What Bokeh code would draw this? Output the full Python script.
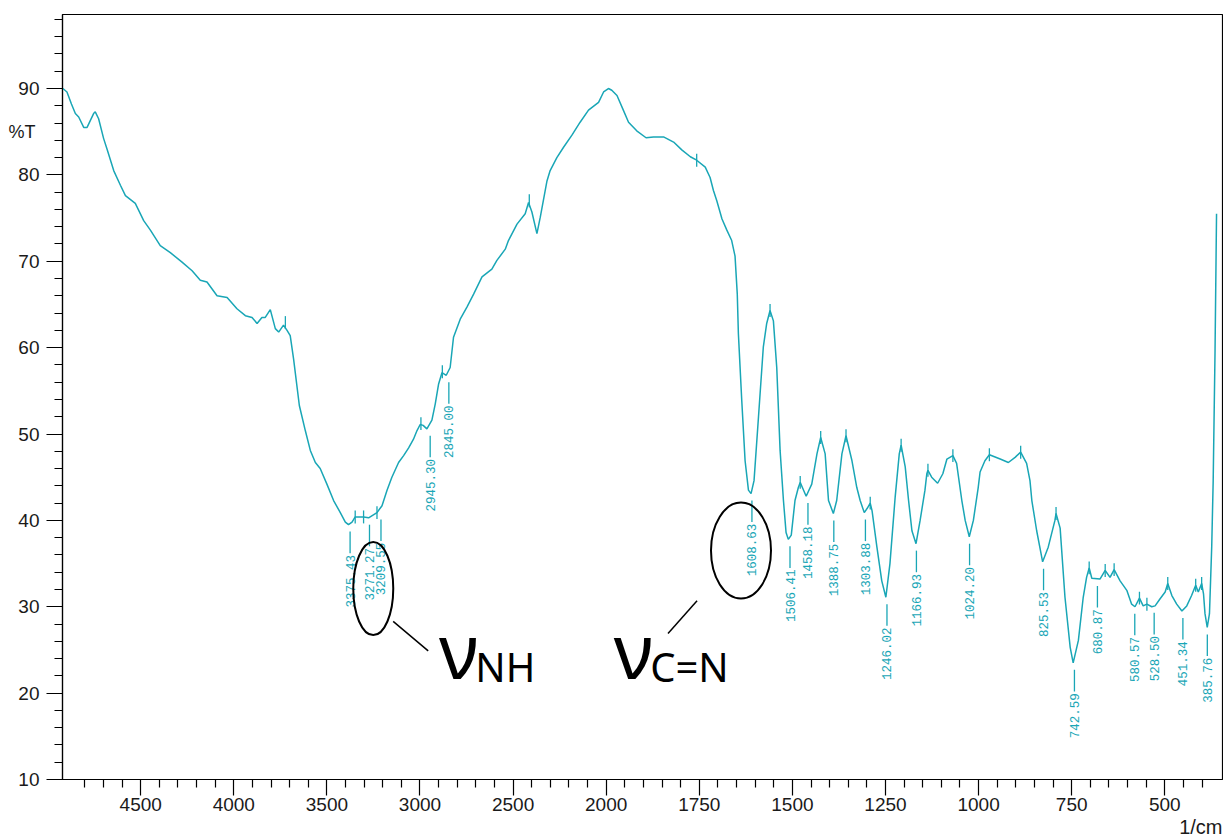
import numpy as np
from bokeh.plotting import figure
from bokeh.models import (Range1d, FixedTicker, CustomJSTickFormatter, Title, LinearAxis)
from bokeh.embed import file_html
from bokeh.resources import INLINE
from bokeh.core.properties import value

# ---------------- data ----------------
wavenumber = [4918, 4896, 4872, 4851, 4833, 4806, 4788, 4753, 4744, 4726, 4699, 4681, 4645, 4609,
              4582, 4529, 4484, 4448, 4395, 4341, 4278, 4224, 4180, 4144, 4090, 4036, 3983, 3938,
              3902, 3875, 3849, 3831, 3804, 3777, 3759, 3733, 3714, 3697, 3679, 3648, 3616, 3589,
              3562, 3536, 3500, 3464, 3428, 3401, 3384, 3365, 3348, 3303, 3276, 3231, 3204, 3177,
              3151, 3115, 3088, 3061, 3035, 3016, 2999, 2983, 2963, 2936, 2918, 2900, 2882, 2859,
              2838, 2820, 2784, 2748, 2712, 2667, 2614, 2587, 2542, 2525, 2479, 2435, 2417, 2399,
              2372, 2354, 2318, 2301, 2265, 2229, 2184, 2140, 2095, 2041, 2014, 1994, 1985, 1971,
              1954, 1940, 1918, 1893, 1873, 1846, 1819, 1797, 1774, 1757, 1734, 1721, 1712, 1703,
              1689, 1676, 1663, 1654, 1648, 1645, 1636, 1627, 1618, 1611, 1603, 1591, 1578, 1569,
              1560, 1551, 1542, 1533, 1524, 1517, 1511, 1503, 1493, 1484, 1479, 1474, 1463, 1448,
              1434, 1424, 1412, 1403, 1390, 1381, 1367, 1356, 1340, 1327, 1318, 1307, 1299, 1291,
              1286, 1273, 1260, 1249, 1238, 1224, 1213, 1208, 1197, 1188, 1179, 1168, 1157, 1144,
              1139, 1136, 1126, 1110, 1096, 1085, 1069, 1059, 1045, 1036, 1025, 1014, 1001, 996,
              983, 971, 942, 920, 902, 887, 871, 862, 857, 844, 828, 813, 795, 792, 781, 768, 754,
              746, 732, 719, 710, 703, 696, 674, 660, 647, 636, 620, 602, 589, 580, 568, 558, 548,
              535, 526, 513, 499, 492, 481, 468, 454, 441, 428, 417, 410, 401, 396, 392, 386, 380,
              374, 370, 365, 361]
transmittance = [90.0, 89.6, 88.2, 87.1, 86.7, 85.5, 85.5, 87.1, 87.3, 86.5, 84.2, 83.0, 80.5, 78.8,
                 77.6, 76.7, 74.7, 73.6, 71.8, 71.0, 69.9, 68.9, 67.8, 67.6, 66.0, 65.8, 64.5, 63.7,
                 63.5, 62.8, 63.5, 63.5, 64.4, 62.2, 61.8, 62.6, 62.0, 61.4, 58.7, 53.3, 50.4, 48.1,
                 46.7, 46.0, 44.2, 42.3, 40.9, 39.8, 39.5, 39.8, 40.4, 40.4, 40.3, 40.9, 41.7, 43.5,
                 45.0, 46.7, 47.5, 48.4, 49.4, 50.4, 51.1, 51.0, 50.6, 51.6, 53.5, 55.8, 57.1, 56.8,
                 57.7, 61.2, 63.3, 64.7, 66.2, 68.2, 69.1, 70.1, 71.4, 72.4, 74.3, 75.5, 76.8, 75.7,
                 73.2, 75.1, 79.3, 80.5, 82.0, 83.2, 84.6, 86.1, 87.5, 88.4, 89.6, 90.0, 89.8, 89.2,
                 87.5, 86.1, 85.1, 84.3, 84.4, 84.4, 83.8, 82.9, 82.1, 81.7, 80.9, 79.7, 78.2, 77.0,
                 74.9, 73.6, 72.4, 70.6, 66.2, 61.6, 53.9, 46.9, 43.5, 43.1, 44.6, 52.0, 60.1, 62.8,
                 64.3, 63.1, 57.7, 48.1, 42.3, 38.6, 37.8, 38.3, 42.3, 43.8, 44.4, 43.9, 42.8, 44.2,
                 47.7, 49.6, 47.7, 42.3, 40.8, 42.3, 47.7, 49.8, 46.9, 43.8, 42.3, 40.9, 41.4, 42.0,
                 41.1, 36.9, 33.0, 31.1, 35.0, 42.7, 47.7, 48.7, 46.2, 42.3, 38.8, 37.3, 40.0, 43.5,
                 45.4, 45.8, 45.0, 44.3, 45.4, 47.1, 47.5, 46.6, 42.3, 40.0, 38.1, 40.0, 43.8, 45.6,
                 46.9, 47.6, 47.1, 46.7, 47.3, 47.9, 46.6, 44.6, 42.3, 38.8, 35.2, 36.9, 40.0, 40.8,
                 39.1, 31.1, 25.3, 23.5, 26.1, 31.1, 33.4, 34.5, 33.3, 33.2, 34.2, 33.4, 34.3, 33.0,
                 31.9, 30.3, 30.0, 31.0, 30.1, 30.3, 30.0, 30.1, 30.9, 31.7, 32.7, 31.3, 30.3, 29.5,
                 30.1, 31.3, 32.5, 31.7, 32.7, 31.5, 29.2, 27.6, 29.2, 36.9, 44.6, 59.7, 75.5]

# labelled peaks (minima)
peak_wn = [3375.43, 3271.27, 3209.55, 2945.30, 2845.00, 1608.63, 1506.41, 1458.18, 1388.75,
           1303.88, 1246.02, 1166.93, 1024.20, 825.53, 742.59, 680.87, 580.57, 528.50, 451.34, 385.76]
peak_T = [39.5, 40.3, 40.9, 50.6, 56.8, 43.1, 37.8, 42.8, 40.8,
          40.9, 31.1, 37.3, 38.1, 35.2, 23.5, 33.2, 30.0, 30.1, 29.5, 27.6]

# small vertical markers at local maxima
marker_wn = [3723, 3348, 3303, 3231, 2995, 2880, 2413, 1757, 1560, 1479, 1424, 1356, 1291, 1208,
             1136, 1069, 971, 887, 792, 703, 660, 636, 568, 548, 492, 417, 401]
marker_T = [62.9, 40.4, 40.4, 40.9, 51.2, 57.2, 77.0, 81.7, 64.3, 44.4, 49.6, 49.8, 42.0, 48.7,
            45.8, 47.5, 47.6, 47.9, 40.8, 34.5, 34.2, 34.3, 31.0, 30.3, 32.7, 32.5, 32.7]

# axis ticks
x_major = [4500, 4000, 3500, 3000, 2500, 2000, 1750, 1500, 1250, 1000, 750, 500]
x_minor = [4800, 4700, 4600, 4400, 4300, 4200, 4100, 3900, 3800, 3700, 3600, 3400, 3300, 3200,
           3100, 2900, 2800, 2700, 2600, 2400, 2300, 2200, 2100, 1950, 1900, 1850, 1800, 1700,
           1650, 1600, 1550, 1450, 1400, 1350, 1300, 1200, 1150, 1100, 1050, 950, 900, 850, 800,
           700, 650, 600, 550, 450, 400]
y_major = [10, 20, 30, 40, 50, 60, 70, 80, 90]
y_minor = [12, 14, 16, 18, 22, 24, 26, 28, 32, 34, 36, 38, 42, 44, 46, 48, 52, 54, 56, 58,
           62, 64, 66, 68, 72, 74, 76, 78, 82, 84, 86, 88, 92, 94, 96, 98]
x_limits = [4920, 345]
y_limits = [10, 98.57]
y_title = "%T"
y_title_at = 85
x_title = "1/cm"

# annotations
ellipse_wn = [3251, 1638]
ellipse_T = [32.1, 36.5]
ellipse_w_px = [40, 60]
ellipse_h_px = [93, 96]
leader_wn0 = [3144, 1756]
leader_T0 = [28.3, 30.7]
leader_wn1 = [2956, 1834]
leader_T1 = [24.9, 26.9]
nu_text = ["ν", "ν"]
nu_wn = [2898, 1980]
nu_T = [25.0, 25.0]
sub_text = ["NH", "C=N"]
sub_wn = [2703, 1882]
sub_T = [23.1, 23.1]

TEAL = "#19a6b6"


def u(w):
    """Shimadzu-style axis: scale doubles below 2000 1/cm."""
    w = np.asarray(w, dtype=float)
    return np.where(w <= 2000, 2000 - w, -(w - 2000) / 2.0)


p = figure(width=1223, height=840, output_backend="svg", toolbar_location=None,
           x_range=Range1d(float(u(x_limits[0])), float(u(x_limits[1]))),
           y_range=Range1d(*y_limits),
           min_border_left=62, min_border_right=1, min_border_top=14, min_border_bottom=61)
p.background_fill_color = "white"
p.border_fill_color = "white"
p.outline_line_color = "black"
p.outline_line_width = 1.2
p.xgrid.visible = False
p.ygrid.visible = False

# x axis
p.xaxis.ticker = FixedTicker(ticks=[float(v) for v in u(x_major)],
                             minor_ticks=[float(v) for v in u(x_minor)])
p.xaxis.formatter = CustomJSTickFormatter(
    code="return (tick >= 0 ? (2000 - tick) : (2000 - 2 * tick)).toFixed(0);")
# y axis
p.yaxis.ticker = FixedTicker(ticks=y_major, minor_ticks=y_minor)

for ax in (p.xaxis, p.yaxis):
    ax.major_tick_out = 16
    ax.major_tick_in = 0
    ax.minor_tick_out = 8
    ax.minor_tick_in = 0
    ax.axis_line_color = "black"
    ax.axis_line_width = 1.2
    ax.major_tick_line_color = "black"
    ax.minor_tick_line_color = "black"
    ax.major_tick_line_width = 1.2
    ax.minor_tick_line_width = 1.2
    ax.major_label_text_font = "Liberation Sans"
    ax.major_label_text_font_size = "19px"
    ax.major_label_text_color = "#1a1a1a"
p.xaxis.major_label_standoff = 2
p.yaxis.major_label_standoff = 7

# "%T" as a second, line-less left axis carrying a single label
title_axis = LinearAxis(ticker=FixedTicker(ticks=[y_title_at]),
                        major_label_overrides={y_title_at: y_title},
                        axis_line_color=None, major_tick_line_color=None,
                        minor_tick_line_color=None, major_tick_out=0, major_tick_in=0,
                        minor_tick_out=0, minor_tick_in=0, major_label_standoff=-20,
                        major_label_text_font="Liberation Sans",
                        major_label_text_font_size="18px", major_label_text_color="#1a1a1a")
p.add_layout(title_axis, "left")

# spectrum
p.line(u(wavenumber), transmittance, line_color=TEAL, line_width=1.5)

# peak markers
mx = u(marker_wn)
mT = np.asarray(marker_T)
p.segment(x0=mx, y0=mT - 0.75, x1=mx, y1=mT + 0.75, line_color=TEAL, line_width=1.3)

# peak labels
px = u(peak_wn)
pT = np.asarray(peak_T)
p.segment(x0=px, y0=pT - 0.8, x1=px, y1=pT - 3.3, line_color=TEAL, line_width=1.3)
p.text(x=px, y=pT - 3.5, text=[f"{w:.2f}" for w in peak_wn], angle=np.pi / 2,
       text_align="right", text_baseline="middle", text_color=TEAL,
       text_font=value("Liberation Mono"), text_font_size="12.5px")

# annotations
p.ellipse(x=u(ellipse_wn), y=ellipse_T, width=ellipse_w_px, height=ellipse_h_px,
          width_units="screen", height_units="screen", fill_alpha=0,
          line_color="black", line_width=2)
p.segment(x0=u(leader_wn0), y0=leader_T0, x1=u(leader_wn1), y1=leader_T1,
          line_color="black", line_width=1.5)
p.text(x=u(nu_wn), y=nu_T, text=nu_text, text_font=value("Noto Sans"),
       text_font_size="76px", text_color="black", text_align="left",
       text_baseline="alphabetic")
p.text(x=u(sub_wn), y=sub_T, text=sub_text, text_font=value("Noto Sans"),
       text_font_size="40px", text_color="black", text_align="left",
       text_baseline="alphabetic")

# x axis title
p.add_layout(Title(text=x_title, align="right", text_font="Liberation Sans",
                   text_font_size="20px", text_color="#1a1a1a", text_font_style="normal",
                   standoff=0, offset=0), "below")

open("out.html", "w").write(file_html(p, INLINE))
